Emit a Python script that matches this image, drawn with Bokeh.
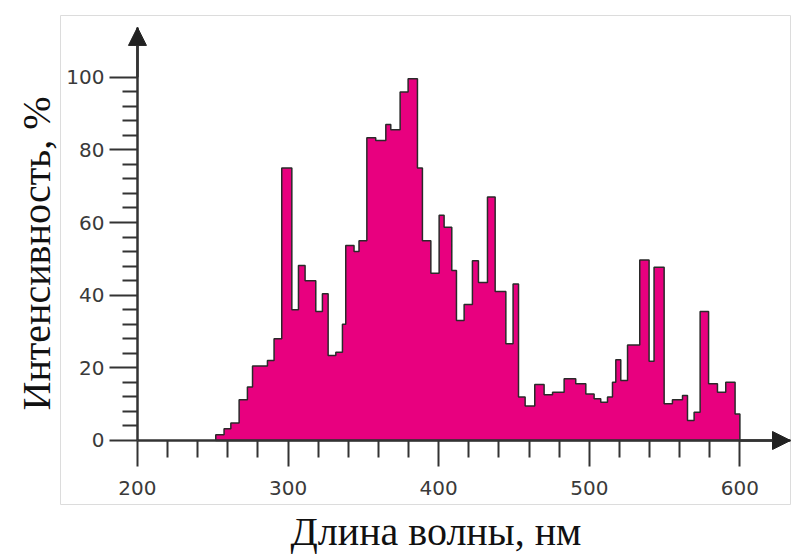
from bokeh.plotting import figure
from bokeh.models import FixedTicker, Arrow, NormalHead, Title, Range1d
from bokeh.embed import file_html
from bokeh.resources import INLINE

# Bin edges (nm) and intensity (%) of each bin
edges = [252, 257.5, 262, 267.5, 273, 276.4, 286.3, 290.7, 295.8, 302.5, 306.9,
         311.3, 318.4, 322.8, 326.6, 331.7, 336.1, 338.3, 343.8, 347.1, 352.3,
         358.2, 364.9, 368.2, 374.4, 379.7, 385.9, 389.2, 394.8, 400.3, 403.6,
         408.7, 411.8, 416.9, 422.4, 426.4, 432.4, 437.5, 444.6, 449.4, 453,
         457.4, 463.8, 470, 475.6, 483.3, 491, 497.7, 503.2, 507.6, 512.1,
         515.4, 517.6, 520.9, 525.4, 533.5, 539.7, 543, 549.7, 555.2, 561.9,
         565.2, 569.6, 573.6, 579.2, 585.1, 590.6, 596.8, 600]
values = [1.6, 3.2, 4.8, 11.2, 14.7, 20.5, 22, 28, 75, 36, 48.2, 44, 35.5, 40.4,
          23.4, 24.3, 32, 53.7, 52, 55, 83.3, 82.6, 87, 85.5, 95.9, 99.6, 75, 55,
          46, 62, 58.7, 46.8, 33, 37.4, 49.5, 43.5, 67, 41, 26.6, 43.1, 12, 9.5,
          15.4, 12.6, 13.3, 17, 15.6, 12.8, 11.5, 10.5, 12, 16, 22.2, 16.5, 26.3,
          49.7, 21.8, 47.7, 10.1, 11.2, 12.4, 5.5, 7.8, 35.5, 15.6, 13.3, 16, 7.3]

x_major = [200, 300, 400, 500, 600]
x_minor = [220, 240, 260, 280, 320, 340, 360, 380, 420, 440, 460, 480,
           520, 540, 560, 580]
y_major = [0, 20, 40, 60, 80, 100]
y_minor = [4, 8, 12, 16, 24, 28, 32, 36, 44, 48, 52, 56, 64, 68, 72, 76,
           84, 88, 92, 96]

x_label = "Длина волны, нм"
y_label = "Интенсивность, %"

# picture area (data units) and axis arrow tips
XA, XB = 148.9, 634.26
YA, YB = -17.62, 116.98
X_TIP, Y_TIP = 633.6, 113.7

p = figure(width=791, height=557, output_backend="svg", toolbar_location=None,
           x_range=Range1d(XA, XB), y_range=Range1d(YA, YB),
           min_border_left=60, min_border_right=0, min_border_top=15,
           min_border_bottom=53)
p.grid.visible = False
p.outline_line_color = "#dcdcdc"
p.outline_line_width = 1

ink = "#333333"
p.xaxis.fixed_location = 0
p.yaxis.fixed_location = 200
p.xaxis.bounds = (200, X_TIP)
p.yaxis.bounds = (0, Y_TIP)
for ax, maj, mnr, mo, no in ((p.xaxis, x_major, x_minor, 26, 17),
                             (p.yaxis, y_major, y_minor, 28, 15)):
    ax.ticker = FixedTicker(ticks=maj, minor_ticks=mnr)
    ax.axis_line_width = 2.5
    ax.axis_line_color = ink
    ax.major_tick_in = 0
    ax.major_tick_out = mo
    ax.minor_tick_in = 0
    ax.minor_tick_out = no
    ax.major_tick_line_width = 2
    ax.minor_tick_line_width = 2
    ax.major_tick_line_color = ink
    ax.minor_tick_line_color = ink
    ax.major_label_text_font = "DejaVu Sans"
    ax.major_label_text_font_size = "20px"
    ax.major_label_text_color = "#3a3a3a"
p.xaxis.major_label_standoff = 15
p.yaxis.major_label_standoff = 5

# step polygon of the spectrum
xs = [edges[0]]
ys = [0]
for i, v in enumerate(values):
    xs += [edges[i], edges[i + 1]]
    ys += [v, v]
xs.append(edges[-1])
ys.append(0)
p.patch(xs, ys, fill_color="#E8007F", line_color="#2a2a2a", line_width=1.5)

# axis arrows
p.add_layout(Arrow(end=NormalHead(size=18, fill_color="#222222", line_color="#222222"),
                   x_start=200, y_start=100, x_end=200, y_end=Y_TIP,
                   line_width=2.5, line_color=ink))
p.add_layout(Arrow(end=NormalHead(size=18, fill_color="#222222", line_color="#222222"),
                   x_start=600, y_start=0, x_end=X_TIP, y_end=0,
                   line_width=2.5, line_color=ink))

p.add_layout(Title(text=x_label, align="left", offset=230, standoff=4,
                   text_font="Liberation Serif", text_font_size="40px",
                   text_font_style="normal", text_color="#111111"), "below")
p.add_layout(Title(text=y_label, align="left", offset=94, standoff=4,
                   text_font="Liberation Serif", text_font_size="40px",
                   text_font_style="normal", text_color="#111111"), "left")

open("out.html", "w").write(file_html(p, INLINE))
